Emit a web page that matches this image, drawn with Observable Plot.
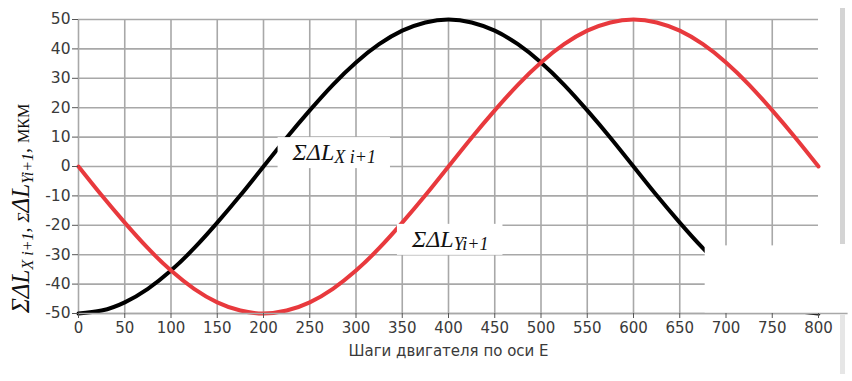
<!DOCTYPE html>
<html>
<head>
<meta charset="utf-8">
<script src="https://cdn.jsdelivr.net/npm/d3@7"></script>
<script src="https://cdn.jsdelivr.net/npm/@observablehq/plot@0.6"></script>
<style>
  html, body { margin: 0; padding: 0; background: #fff; }
  #wrap { position: relative; width: 852px; height: 381px; overflow: hidden; }
  #wrap svg { position: absolute; left: 0; top: 0; }
  .bar1 { position: absolute; left: 840px; top: 8px; width: 5px; height: 236px; background: #d4d4d4; }
  .bar2 { position: absolute; left: 840px; top: 314px; width: 5px; height: 60px; background: #e6e6e6; }
</style>
</head>
<body>
<div id="wrap"></div>
<script>
// Steps along the E axis
const steps = [0,25,50,75,100,125,150,175,200,225,250,275,300,325,350,375,400,425,450,475,500,525,550,575,600,625,650,675,700,725,750,775,800];
// ΣΔL X i+1 (black), µm
const sumX = [-50,-49,-46.2,-41.6,-35.4,-27.8,-19.1,-9.8,0,9.8,19.1,27.8,35.4,41.6,46.2,49,50,49,46.2,41.6,35.4,27.8,19.1,9.8,0,-9.8,-19.1,-27.8,-35.4,-41.6,-46.2,-49,-50];
// ΣΔL Y i+1 (red), µm
const sumY = [0,-9.8,-19.1,-27.8,-35.4,-41.6,-46.2,-49,-50,-49,-46.2,-41.6,-35.4,-27.8,-19.1,-9.8,0,9.8,19.1,27.8,35.4,41.6,46.2,49,50,49,46.2,41.6,35.4,27.8,19.1,9.8,0];
const xTicks = [0,50,100,150,200,250,300,350,400,450,500,550,600,650,700,750,800];
const xGrid = [0,50,100,150,200,250,300,350,400,450,500,550,600,650,700,750];
const yTicks = [-50,-40,-30,-20,-10,0,10,20,30,40,50];
const xLabel = "Шаги двигателя по оси Е";
// annotation anchors (data units)
const notes = [
  {x: 232, y: 2.0, main: "ΣΔL", sub: "X i+1"},
  {x: 361, y: -27.5, main: "ΣΔL", sub: "Yi+1"}
];
// occluding white patch (data units)
const patch = [{x1: 677.5, x2: 832, y1: -50, y2: -27}];

const rowsX = steps.map((s, i) => ({s, v: sumX[i]}));
const rowsY = steps.map((s, i) => ({s, v: sumY[i]}));

const gridColor = "#a8a8a8";
const chart = Plot.plot({
  width: 852,
  height: 381,
  marginLeft: 78,
  marginRight: 34,
  marginTop: 19,
  marginBottom: 68,
  style: {fontFamily: "'DejaVu Sans', Verdana, sans-serif", fontSize: "15px", color: "#3a3a3a", background: "transparent"},
  x: {domain: [0, 800]},
  y: {domain: [-50, 50]},
  marks: [
    Plot.ruleX(xGrid, {stroke: gridColor, strokeWidth: 1.6}),
    Plot.ruleY(yTicks, {stroke: gridColor, strokeWidth: 1.6}),
    Plot.line(rowsX, {x: "s", y: "v", stroke: "#000", strokeWidth: 4, curve: "natural"}),
    Plot.line(rowsY, {x: "s", y: "v", stroke: "#e8393d", strokeWidth: 4, curve: "natural"}),
    Plot.rect(patch, {x1: "x1", x2: "x2", y1: "y1", y2: "y2", fill: "white"}),
    Plot.ruleY([-50], {x1: 0, x2: 832, stroke: gridColor, strokeWidth: 1.4}),
    Plot.axisX({ticks: xTicks, tickFormat: d => String(d), tickSize: 5, tickPadding: 4, stroke: "#555", label: null, fill: "#3a3a3a"}),
    Plot.axisY({ticks: yTicks, tickFormat: d => String(d), tickSize: 6, tickPadding: 2, stroke: "#555", label: null, fill: "#3a3a3a", fontSize: 15.5}),
    Plot.text([xLabel], {frameAnchor: "bottom", dy: 42, text: d => d, fill: "#3a3a3a", fontSize: 15})
  ]
});

const wrap = document.getElementById("wrap");
wrap.appendChild(chart);
const b1 = document.createElement("div"); b1.className = "bar1"; wrap.appendChild(b1);
const b2 = document.createElement("div"); b2.className = "bar2"; wrap.appendChild(b2);

const NS = "http://www.w3.org/2000/svg";
const sx = chart.scale("x"), sy = chart.scale("y");
const serif = "'Liberation Serif', 'Times New Roman', serif";

// annotations with white boxes
notes.forEach(n => {
  const g = document.createElementNS(NS, "g");
  chart.appendChild(g);
  const px = sx.apply(n.x), py = sy.apply(n.y);
  const rect = document.createElementNS(NS, "rect");
  rect.setAttribute("fill", "white");
  g.appendChild(rect);
  const t = document.createElementNS(NS, "text");
  t.setAttribute("x", px); t.setAttribute("y", py);
  t.setAttribute("text-anchor", "start");
  t.setAttribute("font-family", serif);
  t.setAttribute("font-style", "italic");
  t.setAttribute("font-size", 24);
  t.setAttribute("fill", "#111");
  const m = document.createElementNS(NS, "tspan"); m.textContent = n.main; t.appendChild(m);
  const s = document.createElementNS(NS, "tspan"); s.textContent = n.sub;
  s.setAttribute("font-size", 18); s.setAttribute("dy", 3); t.appendChild(s);
  g.appendChild(t);
  const bb = t.getBBox();
  rect.setAttribute("x", bb.x - 14); rect.setAttribute("width", bb.width + 28);
  rect.setAttribute("y", py - 23); rect.setAttribute("height", 31);
});

// y-axis label
const yl = document.createElementNS(NS, "text");
yl.setAttribute("transform", "translate(29,313) rotate(-90)");
yl.setAttribute("text-anchor", "start");
yl.setAttribute("font-family", serif);
yl.setAttribute("fill", "#111");
yl.setAttribute("font-size", 25);
const parts = [
  {t: "ΣΔL", s: 25, it: true, dy: 0},
  {t: "X i+1", s: 16, it: true, dy: 4},
  {t: ", ", s: 20, it: true, dy: -4},
  {t: "Σ", s: 17, it: true, dy: 0},
  {t: "ΔL", s: 25, it: true, dy: 0},
  {t: "Yi+1", s: 16, it: true, dy: 4},
  {t: ", ", s: 20, it: true, dy: -4},
  {t: "МКМ", s: 16, it: false, dy: 0}
];
parts.forEach(p => {
  const ts = document.createElementNS(NS, "tspan");
  ts.textContent = p.t;
  ts.setAttribute("font-size", p.s);
  ts.setAttribute("font-style", p.it ? "italic" : "normal");
  if (p.dy) ts.setAttribute("dy", p.dy);
  yl.appendChild(ts);
});
chart.appendChild(yl);
</script>
</body>
</html>
